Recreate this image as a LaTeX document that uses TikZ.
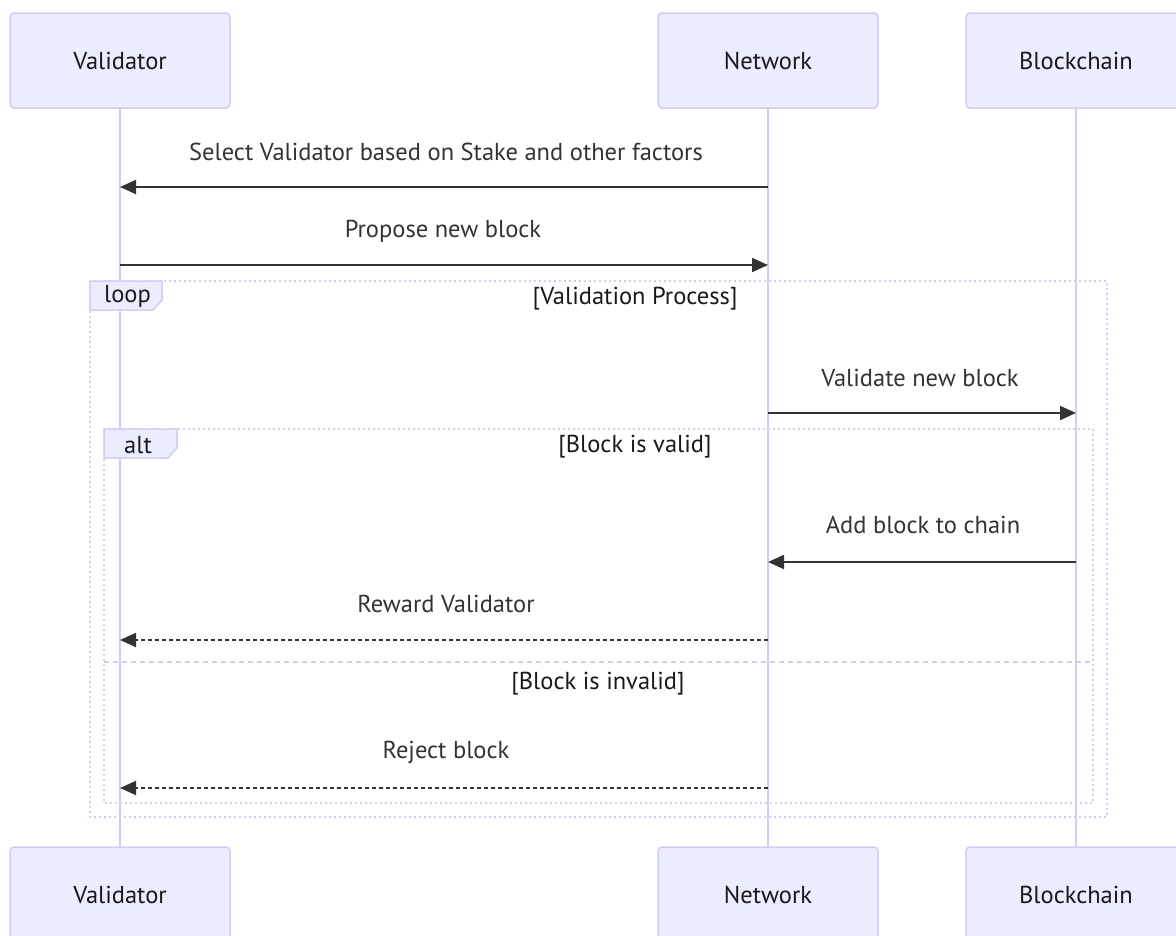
\documentclass[tikz,border=0pt]{standalone}
\usepackage{fontspec}
\setmainfont{PT Sans}
\usetikzlibrary{arrows.meta}
\definecolor{actfill}{HTML}{ECECFF}
\definecolor{actline}{HTML}{D6CBF2}
\definecolor{msg}{HTML}{333333}
\tikzset{
  actor/.style={draw=actline, fill=actfill, line width=1.5pt, rounded corners=4pt,
    minimum width=220pt, minimum height=95pt, inner sep=0pt, text=black!90, font=\fontsize{24.5}{28}\selectfont},
  lifeline/.style={draw=actline, line width=2pt},
  msgline/.style={draw=msg, line width=2pt, -{Triangle[length=16pt,width=14pt]}},
  reply/.style={msgline, dash pattern=on 4pt off 3pt},
  msglabel/.style={text=msg, font=\fontsize{24.5}{28}\selectfont, inner sep=0pt},
  frame/.style={draw=actline, line width=2pt, dash pattern=on 2pt off 3pt},
  sep/.style={draw=actline, line width=2pt, dash pattern=on 5pt off 4pt},
  tagbox/.style={draw=actline, fill=actfill, line width=1.5pt},
  tagtext/.style={font=\fontsize{24.5}{28}\selectfont, inner sep=0pt, text=black!90},
}
\begin{document}
\begin{tikzpicture}[x=1pt, y=-1pt]
\useasboundingbox (0,0) rectangle (1176,935);
\clip (0,0) rectangle (1176,935);
\fill[white] (0,0) rectangle (1176,935);

% participants, top and bottom
\node[actor] (vt) at (120,60.5) {Validator};
\node[actor] (nt) at (768,60.5) {Network};
\node[actor] (bt) at (1076,60.5) {Blockchain};
\node[actor] (vb) at (120,894.5) {Validator};
\node[actor] (nb) at (768,894.5) {Network};
\node[actor] (bb) at (1076,894.5) {Blockchain};

% lifelines
\draw[lifeline] (vt.south) -- (vb.north);
\draw[lifeline] (nt.south) -- (nb.north);
\draw[lifeline] (bt.south) -- (bb.north);

% message anchors on the lifelines
\coordinate (v1) at (120,187);  \coordinate (n1) at (768,187);
\coordinate (v2) at (120,265);  \coordinate (n2) at (768,265);
\coordinate (n3) at (768,413);  \coordinate (b3) at (1076,413);
\coordinate (n4) at (768,562);  \coordinate (b4) at (1076,562);
\coordinate (v5) at (120,640);  \coordinate (n5) at (768,640);
\coordinate (v6) at (120,788);  \coordinate (n6) at (768,788);

% loop frame
\draw[frame] (90,281) rectangle (1107,817);
\draw[tagbox] (90,281) -- (162,281) -- (162,300) -- (153,310) -- (90,310) -- cycle;
\node[tagtext, anchor=west] (looptag) at (104,296) {loop};
\node[tagtext] (loopcond) at (635,299) {[Validation Process]};

% alt frame
\draw[frame] (104,429) rectangle (1093,803);
\draw[tagbox] (104,429) -- (177,429) -- (177,448) -- (168,458) -- (104,458) -- cycle;
\node[tagtext, anchor=west] (alttag) at (124,445) {alt};
\node[tagtext] (altcond) at (635,447) {[Block is valid]};
\draw[sep] (104,662) -- (1093,662);
\node[tagtext] (elsecond) at (598,684) {[Block is invalid]};

% messages
\draw[msgline] (n1) -- (v1);
\node[msglabel] (m1) at (446,152) {Select Validator based on Stake and other factors};
\draw[msgline] (v2) -- (n2);
\node[msglabel] (m2) at (443,231) {Propose new block};
\draw[msgline] (n3) -- (b3);
\node[msglabel] (m3) at (920,378) {Validate new block};
\draw[msgline] (b4) -- (n4);
\node[msglabel] (m4) at (923,525) {Add block to chain};
\draw[reply] (n5) -- (v5);
\node[msglabel] (m5) at (446,604) {Reward Validator};
\draw[reply] (n6) -- (v6);
\node[msglabel] (m6) at (446,752) {Reject block};
\end{tikzpicture}
\end{document}
